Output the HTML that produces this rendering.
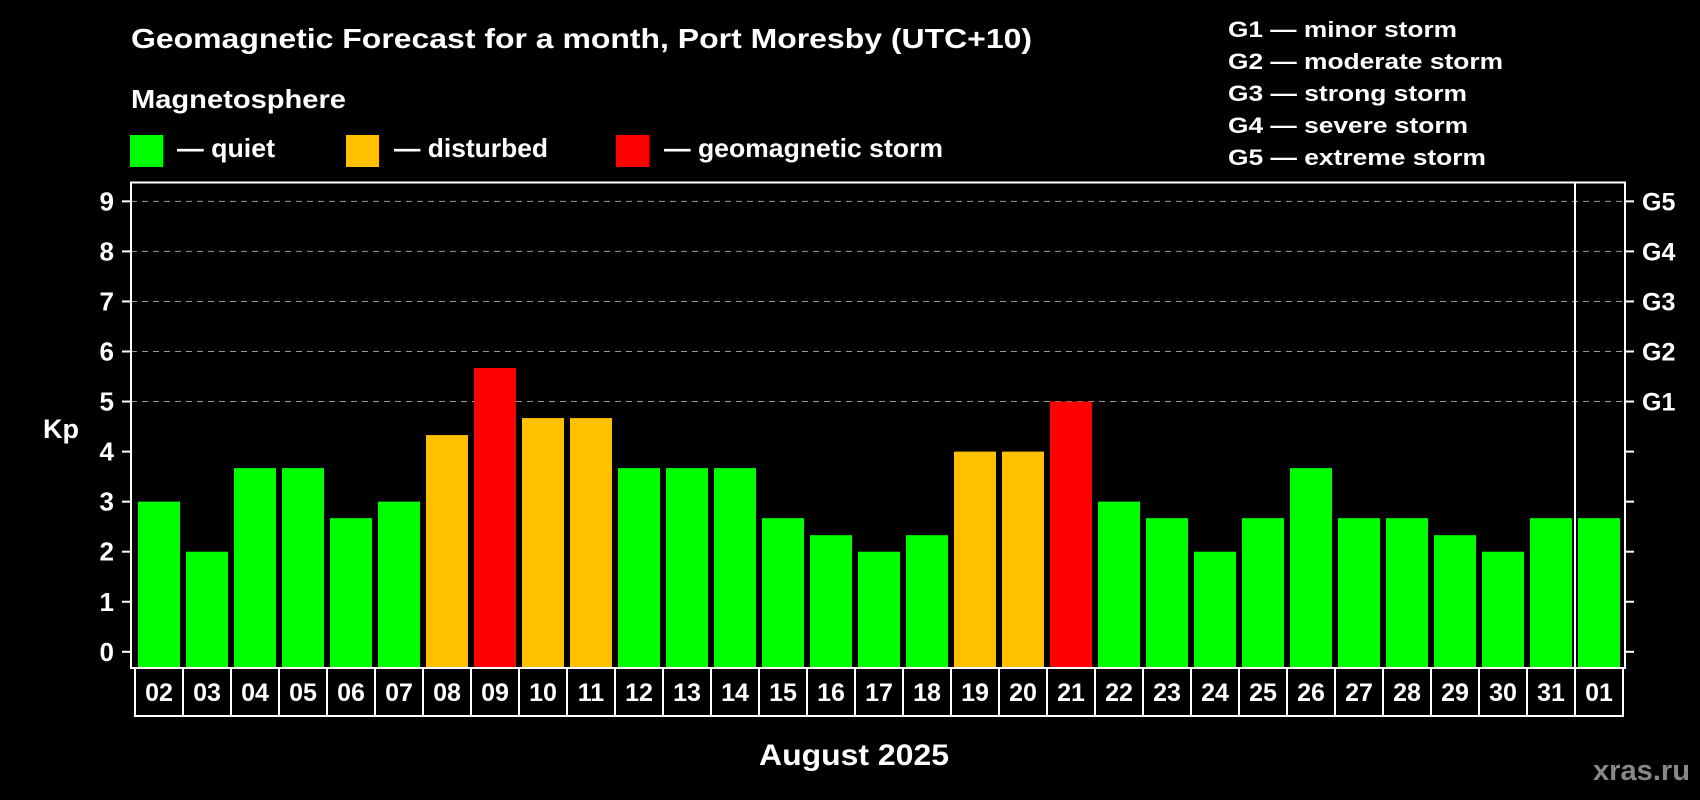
<!DOCTYPE html>
<html><head><meta charset="utf-8"><style>
html,body{margin:0;padding:0;background:#000;}
svg{display:block;font-family:"Liberation Sans",Arial,sans-serif;font-weight:bold;}
</style></head><body>
<svg id="chart" width="1700" height="800" viewBox="0 0 1700 800" xmlns="http://www.w3.org/2000/svg">
<rect width="1700" height="800" fill="#000"/>
<text x="131" y="48" font-size="28" fill="#fff" textLength="901" lengthAdjust="spacingAndGlyphs">Geomagnetic Forecast for a month, Port Moresby (UTC+10)</text>
<text x="131" y="108" font-size="26" fill="#fff" textLength="215" lengthAdjust="spacingAndGlyphs">Magnetosphere</text>
<g>
<rect x="130" y="135" width="33" height="32" fill="#00ff00"/>
<text x="177" y="157" font-size="26" fill="#fff" textLength="98" lengthAdjust="spacingAndGlyphs">— quiet</text></g>
<g>
<rect x="346" y="135" width="33" height="32" fill="#ffc000"/>
<text x="394" y="157" font-size="26" fill="#fff" textLength="154" lengthAdjust="spacingAndGlyphs">— disturbed</text></g>
<g>
<rect x="616" y="135" width="33" height="32" fill="#ff0000"/>
<text x="664" y="157" font-size="26" fill="#fff" textLength="279" lengthAdjust="spacingAndGlyphs">— geomagnetic storm</text></g>
<g font-size="22" fill="#fff">
<text x="1228" y="37" textLength="229" lengthAdjust="spacingAndGlyphs">G1 — minor storm</text>
<text x="1228" y="69" textLength="275" lengthAdjust="spacingAndGlyphs">G2 — moderate storm</text>
<text x="1228" y="101" textLength="239" lengthAdjust="spacingAndGlyphs">G3 — strong storm</text>
<text x="1228" y="133" textLength="240" lengthAdjust="spacingAndGlyphs">G4 — severe storm</text>
<text x="1228" y="165" textLength="258" lengthAdjust="spacingAndGlyphs">G5 — extreme storm</text>
</g>
<text x="43" y="438" font-size="27" fill="#fff">Kp</text>
<g id="grid"></g><g id="bars"></g><g id="axes"></g>
<text x="759" y="765" font-size="30" fill="#fff" textLength="190" lengthAdjust="spacingAndGlyphs">August 2025</text>
<text x="1593" y="780" font-size="29" fill="#888" textLength="97" lengthAdjust="spacingAndGlyphs">xras.ru</text>
</svg>
<script>
const days = ["02","03","04","05","06","07","08","09","10","11","12","13","14","15","16","17","18","19","20","21","22","23","24","25","26","27","28","29","30","31","01"];
const kpValues = [3,2,3.67,3.67,2.67,3,4.33,5.67,4.67,4.67,3.67,3.67,3.67,2.67,2.33,2,2.33,4,4,5,3,2.67,2,2.67,3.67,2.67,2.67,2.33,2,2.67,2.67];
const yTicks = [0,1,2,3,4,5,6,7,8,9];
const gLabels = ["G1","G2","G3","G4","G5"];
const gLevels = [5,6,7,8,9];

const NS="http://www.w3.org/2000/svg";
const plotL=131, plotR=1625, plotT=182.5, plotB=668;
const y0=651.8, unit=50.05;
function yScale(v){return y0-v*unit;}
const barStart=138, pitch=48, barW=42;
function xScale(i){return barStart+i*pitch;}
function colorFor(v){return v>=5?"#ff0000":(v>=4?"#ffc000":"#00ff00");}
function mk(tag,attrs,parent){const e=document.createElementNS(NS,tag);for(const k in attrs)e.setAttribute(k,attrs[k]);parent.appendChild(e);return e;}

const grid=document.getElementById("grid"), bars=document.getElementById("bars"), axes=document.getElementById("axes");
gLevels.forEach((v,i)=>{
  const l=mk("line",{x1:plotL,x2:plotR,y1:yScale(v),y2:yScale(v),stroke:"#999","stroke-width":1,"stroke-dasharray":"6,5"},grid);
  
  
  const t=mk("text",{x:1642,y:yScale(v)+9,"font-size":25,fill:"#fff"},axes);
  t.textContent=gLabels[i];
  
  
});
kpValues.forEach((v,i)=>{
  const r=mk("rect",{x:xScale(i),y:yScale(v),width:barW,height:plotB-yScale(v),fill:colorFor(v)},bars);
  
  
  const bx=xScale(i)-3;
  const b=mk("rect",{x:bx,y:plotB,width:pitch,height:48,fill:"none",stroke:"#fff","stroke-width":2},axes);
  
  
  const t=mk("text",{x:bx+pitch/2,y:701,"font-size":25,fill:"#fff","text-anchor":"middle"},axes);
  t.textContent=days[i];
  
  
});
yTicks.forEach(v=>{
  const a=mk("line",{x1:122,x2:plotL,y1:yScale(v),y2:yScale(v),stroke:"#fff","stroke-width":2},axes);
  
  
  const b=mk("line",{x1:plotR,x2:1634,y1:yScale(v),y2:yScale(v),stroke:"#fff","stroke-width":2},axes);
  
  
  const t=mk("text",{x:114,y:yScale(v)+9,"font-size":26,fill:"#fff","text-anchor":"end"},axes);
  t.textContent=v;
  
  
});
const frame=mk("rect",{x:plotL,y:plotT,width:plotR-plotL,height:plotB-plotT,fill:"none",stroke:"#fff","stroke-width":2},axes);


const sep=mk("line",{x1:1575,x2:1575,y1:plotT,y2:716,stroke:"#fff","stroke-width":2},axes);


</script>
</body></html>
